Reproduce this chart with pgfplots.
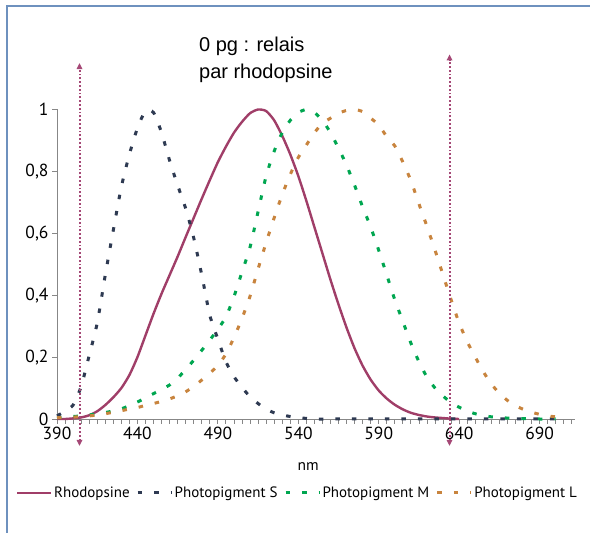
\documentclass[border=0pt]{standalone}
\usepackage{pgfplots}
\pgfplotsset{compat=1.18}
\usepackage{fontspec}
\setmainfont{PT Sans}
\newfontfamily\titlefont{Liberation Sans}
\usetikzlibrary{arrows.meta}

\definecolor{rhodo}{RGB}{160,62,104}
\definecolor{pigS}{RGB}{46,58,82}
\definecolor{pigM}{RGB}{0,166,80}
\definecolor{pigL}{RGB}{200,132,62}
\definecolor{limitmark}{RGB}{165,72,118}
\definecolor{axisgray}{RGB}{135,135,135}
\definecolor{frameblue}{RGB}{110,145,190}

% Normalised absorption spectra, 5 nm steps
\pgfplotstableread{
nm  val
390 0
395 0
400 0.002
405 0.005
410 0.012
415 0.025
420 0.045
425 0.07
430 0.10
435 0.142
440 0.20
445 0.27
450 0.34
455 0.405
460 0.465
465 0.525
470 0.588
475 0.65
480 0.712
485 0.772
490 0.83
495 0.88
500 0.925
505 0.96
510 0.988
515 1.0
520 0.995
525 0.965
530 0.915
535 0.855
540 0.785
545 0.705
550 0.62
555 0.535
560 0.45
565 0.37
570 0.295
575 0.228
580 0.172
585 0.127
590 0.092
595 0.066
600 0.046
605 0.031
610 0.02
615 0.013
620 0.008
625 0.005
630 0.003
635 0.001
640 0
}\rhodopsine

\pgfplotstableread{
nm  val
390 0.01
395 0.025
400 0.045
405 0.105
410 0.205
415 0.31
420 0.465
425 0.61
430 0.75
435 0.855
440 0.94
445 0.995
450 0.99
455 0.925
460 0.835
465 0.755
470 0.68
475 0.585
480 0.465
485 0.335
490 0.258
495 0.185
500 0.137
505 0.102
510 0.072
515 0.05
520 0.032
525 0.02
530 0.013
535 0.008
540 0.004
545 0.002
550 0
560 0
570 0
580 0
590 0
600 0
610 0
620 0
630 0
640 0
650 0
660 0
670 0
680 0
690 0
700 0
705 0
}\pigmentS

\pgfplotstableread{
nm  val
390 0.004
395 0.006
400 0.008
405 0.01
410 0.013
415 0.017
420 0.021
425 0.026
430 0.033
435 0.043
440 0.055
445 0.068
450 0.082
455 0.096
460 0.11
465 0.132
470 0.16
475 0.19
480 0.222
485 0.255
490 0.29
495 0.33
500 0.395
505 0.475
510 0.555
515 0.67
520 0.785
525 0.865
530 0.925
535 0.965
540 0.99
545 1.0
550 0.99
555 0.965
560 0.925
565 0.875
570 0.82
575 0.755
580 0.685
585 0.62
590 0.545
595 0.465
600 0.385
605 0.315
610 0.245
615 0.185
620 0.135
625 0.10
630 0.074
635 0.053
640 0.038
645 0.026
650 0.017
655 0.011
660 0.007
665 0.005
670 0.003
675 0.002
680 0.001
685 0.001
690 0
695 0
700 0
}\pigmentM

\pgfplotstableread{
nm  val
390 0.004
395 0.005
400 0.006
405 0.008
410 0.01
415 0.013
420 0.017
425 0.022
430 0.027
435 0.032
440 0.037
445 0.044
450 0.05
455 0.057
460 0.065
465 0.075
470 0.088
475 0.105
480 0.126
485 0.148
490 0.173
495 0.21
500 0.263
505 0.325
510 0.397
515 0.485
520 0.57
525 0.65
530 0.725
535 0.79
540 0.845
545 0.885
550 0.925
555 0.955
560 0.972
565 0.988
570 0.997
575 1.0
580 0.993
585 0.972
590 0.95
595 0.912
600 0.882
605 0.83
610 0.77
615 0.695
620 0.622
625 0.545
630 0.465
635 0.385
640 0.31
645 0.25
650 0.2
655 0.153
660 0.113
665 0.083
670 0.06
675 0.043
680 0.031
685 0.022
690 0.015
695 0.01
700 0.007
}\pigmentL

\begin{document}
\begin{tikzpicture}
\path[use as bounding box] (0,0) rectangle (590bp,533bp);
\draw[frameblue, line width=1.5bp] (7bp,0) -- (7bp,527bp) -- (590bp,527bp);
\begin{axis}[
  at={(57bp,114bp)}, anchor=south west,
  scale only axis, width=518bp, height=309.5bp,
  xmin=390, xmax=712, ymin=0, ymax=1,
  axis lines=left,
  axis line style={-, axisgray, line width=0.9bp},
  clip=false,
  xtick={390,440,...,690},
  minor xtick={395,400,...,710},
  ytick={0,0.2,0.4,0.6,0.8,1},
  tick align=outside,
  major tick length=5bp, minor tick length=5bp,
  every tick/.style={axisgray, line width=0.9bp},
  every minor tick/.style={axisgray, line width=0.9bp},
  /pgf/number format/assume math mode=true,
  /pgf/number format/use comma,
  xticklabel style={font=\fontsize{17.5bp}{20bp}\selectfont, /pgf/number format/1000 sep={}},
  yticklabel style={font=\fontsize{17.5bp}{20bp}\selectfont,
    /pgf/number format/fixed, /pgf/number format/precision=1},
  xlabel={nm},
  xlabel style={at={(axis description cs:0.485,-0.155)}, anchor=center,
    font=\fontsize{15.5bp}{18bp}\selectfont},
  legend columns=4,
  legend style={at={(axis description cs:0.464,-0.239)}, anchor=center,
    draw=none, fill=none, inner sep=0pt,
    font=\fontsize{15bp}{18bp}\selectfont,
    nodes={inner sep=1.5bp},
    /tikz/every even column/.append style={column sep=5bp}},
  legend image code/.code={\draw[#1] (0bp,0bp) -- (34bp,0bp);},
]
\addplot[rhodo, line width=2.4bp, smooth, tension=0.4] table[x=nm, y=val] {\rhodopsine};
\addlegendentry{Rhodopsine}
\addplot[pigS, line width=3bp, dash pattern=on 4.5bp off 12bp, smooth, tension=0.4] table[x=nm, y=val] {\pigmentS};
\addlegendentry{Photopigment S}
\addplot[pigM, line width=3bp, dash pattern=on 4.5bp off 12bp, smooth, tension=0.4] table[x=nm, y=val] {\pigmentM};
\addlegendentry{Photopigment M}
\addplot[pigL, line width=3bp, dash pattern=on 4.5bp off 12bp, smooth, tension=0.4] table[x=nm, y=val] {\pigmentL};
\addlegendentry{Photopigment L}

% limits of the visible range
\addplot[limitmark, line width=2bp, dash pattern=on 1.8bp off 2bp,
  {Triangle[length=6bp,width=5.5bp]}-{Triangle[length=6bp,width=5.5bp]}, forget plot]
  coordinates {(404,-0.087) (404,1.150)};
\addplot[limitmark, line width=2bp, dash pattern=on 1.8bp off 2bp,
  {Triangle[length=6bp,width=5.5bp]}-{Triangle[length=6bp,width=5.5bp]}, forget plot]
  coordinates {(634,-0.087) (634,1.178)};

\node[anchor=north west, align=left, inner sep=0pt,
  font=\titlefont\fontsize{20bp}{27bp}\selectfont]
  at (axis description cs:0.274,1.236) {0 pg : relais\\par rhodopsine};
\end{axis}
\end{tikzpicture}
\end{document}
